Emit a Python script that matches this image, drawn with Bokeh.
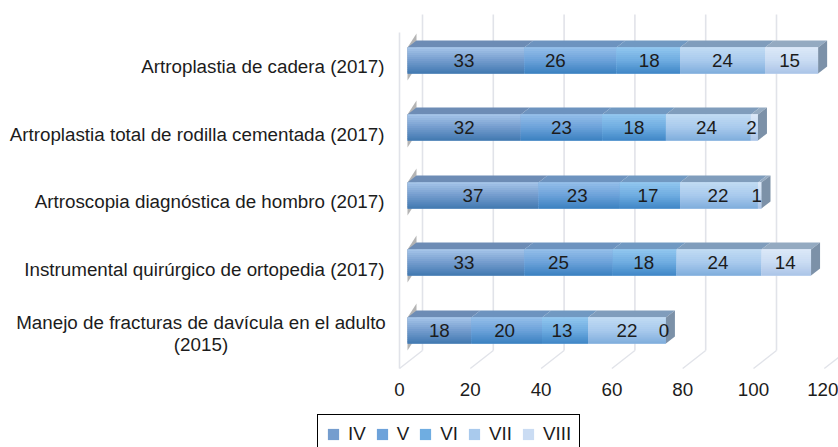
import math
from bokeh.plotting import figure
from bokeh.models import ColumnDataSource, FixedTicker, Label, Legend, LegendItem, Range1d
from bokeh.core.properties import value
from bokeh.embed import file_html
from bokeh.resources import INLINE

categories = [
    "Manejo de fracturas de davícula en el adulto\n(2015)",
    "Instrumental quirúrgico de ortopedia (2017)",
    "Artroscopia diagnóstica de hombro (2017)",
    "Artroplastia total de rodilla cementada (2017)",
    "Artroplastia de cadera (2017)",
]
series_names = ["IV", "V", "VI", "VII", "VIII"]
iv = [18, 33, 37, 32, 33]
v = [20, 25, 23, 23, 26]
vi = [13, 18, 17, 18, 18]
vii = [22, 24, 22, 24, 24]
viii = [0, 14, 1, 2, 15]
x_ticks = [0, 20, 40, 60, 80, 100, 120]

# styles
FONT = "Liberation Sans"
FS = "18.8px"
TXT = "#1c1c1c"
GRID = "#e1e3e9"
stops = {
    "IV": ("#a8c7ea", "#759dce", "#4178b0"),
    "V": ("#96c0ea", "#6da2da", "#3a80c0"),
    "VI": ("#93c8ef", "#6fade1", "#3f86c6"),
    "VII": ("#c2dcf4", "#a9caed", "#7fadDc"),
    "VIII": ("#dce9f8", "#cadcf3", "#abc4e7"),
}
top_cols = {"IV": "#6d8cb5", "V": "#6d93bf", "VI": "#7199c2", "VII": "#809dbc", "VIII": "#94aac1"}
SIDE = "#7c91a8"
WEDGE = "#b4b4b4"

# layout (pixel scales of the reference)
PX_X = 3.54
PX_Y = 67.5
AXIS_L, AXIS_B = 390, 372
ZERO_X, ZERO_Y = 399, 336
W, H = 838, 447
ux = lambda px: px / PX_X
uy = lambda px: px / PX_Y
BAR_START = ux(8)
BAR_H_PX = 26
BAR_H = uy(BAR_H_PX)
DX, DY = ux(9), uy(7)
GRID_DX = ux(23)
N_STRIP = 13
# label displacement from the segment centre, px
label_shift = [
    [0, -2, -3, 0, -2],
    [-2, -10, -1, -1, -1],
    [0, -2, -2, -1, -3],
    [0, 0, 0, -2, -3],
    [-2, -15, 1, 0, -2],
]

p = figure(
    width=W, height=H, output_backend="svg", toolbar_location=None,
    x_range=Range1d(ux(-ZERO_X), ux(W - ZERO_X)),
    y_range=Range1d(uy(ZERO_Y - H), uy(ZERO_Y)),
    min_border_left=0, min_border_right=0, min_border_top=0, min_border_bottom=0,
)
p.outline_line_color = None
p.grid.visible = False
p.background_fill_color = "white"


def hex2rgb(h):
    return tuple(int(h[i:i + 2], 16) for i in (1, 3, 5))


def grad(c, t):
    a, b, d = [hex2rgb(s) for s in c]
    if t < 0.5:
        m, n, f = a, b, t / 0.5
    else:
        m, n, f = b, d, (t - 0.5) / 0.5
    return "#%02x%02x%02x" % tuple(round(m[i] + (n[i] - m[i]) * f) for i in range(3))


def bar_top(i):
    return uy(ZERO_Y - math.floor(330 - 67.5 * i - BAR_H_PX / 2))


# back grid, wall and floor
ybase = uy(ZERO_Y - 350)
ytop = uy(ZERO_Y - 14)
yfront = uy(ZERO_Y - 368)
p.segment([t + GRID_DX for t in x_ticks], [ytop] * 7, [t + GRID_DX for t in x_ticks], [ybase] * 7,
          line_color=GRID, line_width=1.6)
p.segment([t + GRID_DX for t in x_ticks], [ybase] * 7, x_ticks, [yfront] * 7,
          line_color=GRID, line_width=1.4)
p.segment([0], [uy(ZERO_Y - 32)], [0], [yfront], line_color=GRID, line_width=1.6)

series = [iv, v, vi, vii, viii]
n = len(categories)

# wedge behind the base of each bar
wx, wy = [], []
for i in range(n):
    t = bar_top(i)
    b = t - BAR_H
    wx.append([BAR_START, BAR_START + DX, BAR_START + DX, BAR_START])
    wy.append([t, t + uy(14), b + uy(7), b - uy(7)])
p.patches(wx, wy, fill_color=WEDGE, line_color=None)

legend_refs = []
cum = [0.0] * n
lx, ly, lt = [], [], []
for s, (name, vals) in enumerate(zip(series_names, series)):
    L, R, Y, C = [], [], [], []
    tx, ty = [], []
    bl, br, by = [], [], []
    for i in range(n):
        x0 = BAR_START + cum[i]
        x1 = x0 + vals[i]
        top = bar_top(i)
        bl.append(x0)
        br.append(x1)
        by.append(top - BAR_H / 2)
        for k in range(N_STRIP):
            L.append(x0)
            R.append(x1)
            Y.append(top - (k + 0.5) / N_STRIP * BAR_H)
            C.append(grad(stops[name], (k + 0.5) / N_STRIP))
        tx.append([x0, x0 + DX, x1 + DX, x1])
        ty.append([top, top + DY, top + DY, top])
        lx.append((x0 + x1) / 2 + ux(label_shift[i][s]))
        ly.append(top - BAR_H / 2)
        lt.append(str(vals[i]))
        cum[i] += vals[i]
    p.patches(tx, ty, fill_color=top_cols[name], line_color=None)
    # solid bar under the shading strips, also the legend's swatch
    base = p.hbar(y=by, left=bl, right=br, height=BAR_H, fill_color=stops[name][1], line_color=None)
    src = ColumnDataSource(dict(left=L, right=R, y=Y, color=C))
    p.hbar(y="y", left="left", right="right", height=BAR_H / N_STRIP * 1.3,
           fill_color="color", line_color=None, source=src)
    legend_refs.append(base)

# right end of each bar
sx, sy = [], []
for i in range(n):
    x1 = BAR_START + cum[i]
    t = bar_top(i)
    b = t - BAR_H
    sx.append([x1, x1 + DX, x1 + DX, x1])
    sy.append([t, t + DY, b + DY, b])
p.patches(sx, sy, fill_color=SIDE, line_color=None)

p.text(lx, ly, text=lt, text_font=value(FONT), text_font_size=FS, text_color=TXT,
       text_align="center", text_baseline="middle")

# axes
xa = p.xaxis[0]
xa.fixed_location = uy(ZERO_Y - AXIS_B)
xa.ticker = FixedTicker(ticks=x_ticks)
xa.axis_line_color = None
xa.major_tick_line_color = None
xa.minor_tick_line_color = None
xa.major_tick_out = 0
xa.major_tick_in = 0
xa.major_label_text_font = FONT
xa.major_label_text_font_size = FS
xa.major_label_text_color = TXT
xa.major_label_standoff = 10

ya = p.yaxis[0]
ya.fixed_location = ux(AXIS_L - ZERO_X)
ya.ticker = FixedTicker(ticks=list(range(1, n)))
ya.major_label_overrides = {i: c for i, c in enumerate(categories)}
ya.axis_line_color = None
ya.major_tick_line_color = None
ya.minor_tick_line_color = None
ya.major_tick_out = 0
ya.major_tick_in = 0
ya.major_label_text_font = FONT
ya.major_label_text_font_size = FS
ya.major_label_text_color = TXT
ya.major_label_standoff = 6

# the two-line category is centred on itself
p.add_layout(Label(x=ux(200.5 - ZERO_X), y=uy(ZERO_Y - 333), text=categories[0],
                   text_font=FONT, text_font_size=FS, text_color=TXT, text_align="center",
                   text_baseline="middle", text_line_height=1.02))

# legend
items = [LegendItem(label=value(nm), renderers=[r])
         for nm, r in zip(series_names, legend_refs)]
leg = Legend(items=items, orientation="horizontal", location=(317, -7),
             margin=0, padding=8, spacing=9, label_standoff=8, glyph_width=14, glyph_height=14,
             label_width=0, label_text_font=FONT, label_text_font_size=FS, label_text_color=TXT,
             border_line_color="black", border_line_width=1.5, border_line_alpha=1,
             background_fill_color="white", background_fill_alpha=1)
p.add_layout(leg)

open("out.html", "w").write(file_html(p, INLINE))
